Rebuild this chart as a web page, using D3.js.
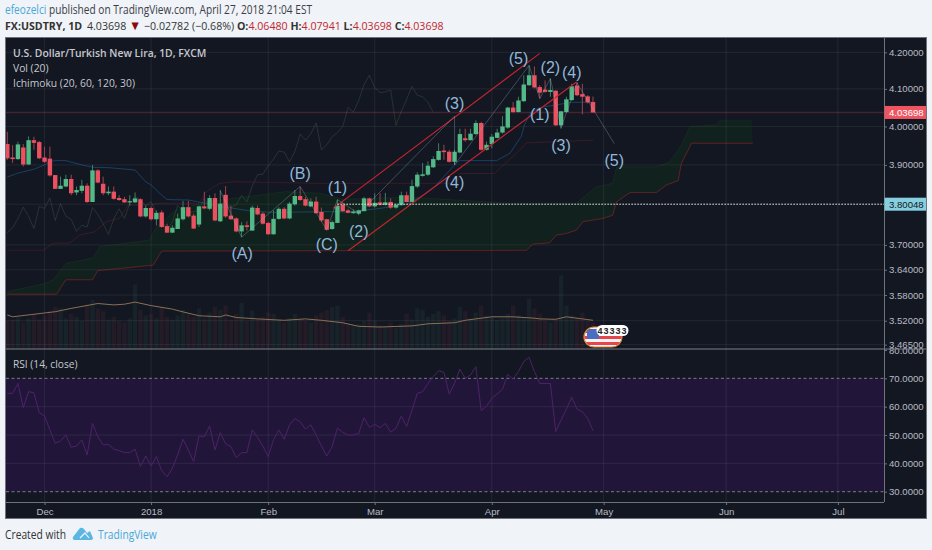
<!DOCTYPE html>
<html><head><meta charset="utf-8">
<script src="https://cdn.jsdelivr.net/npm/d3@7/dist/d3.min.js"></script>
<style>html,body{margin:0;padding:0;background:#f0f3f8;overflow:hidden}svg{display:block}</style>
</head><body><svg id="c" width="932" height="550"></svg>
<script>
const opens=[3.954,3.919,3.915,3.945,3.901,3.964,3.959,3.919,3.916,3.874,
3.839,3.845,3.864,3.830,3.834,3.847,3.806,3.886,3.852,3.828,
3.832,3.816,3.813,3.805,3.805,3.813,3.770,3.791,3.763,3.780,
3.746,3.730,3.739,3.763,3.793,3.772,3.750,3.795,3.789,3.816,
3.758,3.824,3.772,3.765,3.733,3.748,3.735,3.791,3.777,3.754,
3.726,3.764,3.789,3.765,3.800,3.821,3.813,3.795,3.807,3.781,
3.763,3.739,3.754,3.799,3.785,3.778,3.777,3.783,3.815,3.795,
3.805,3.799,3.806,3.792,3.799,3.823,3.806,3.845,3.872,3.875,
3.894,3.913,3.937,3.934,3.908,3.932,3.969,3.964,3.980,4.009,
3.939,3.954,3.970,3.984,3.997,4.050,4.038,4.067,4.110,4.137,
4.105,4.098,4.092,4.095,4.003,4.038,4.070,4.109,4.086,4.080,4.0648];
const highs=[3.986,3.951,3.960,3.954,3.974,3.973,3.962,3.947,3.947,3.874,
3.870,3.875,3.875,3.845,3.862,3.853,3.900,3.889,3.870,3.845,
3.845,3.823,3.819,3.823,3.830,3.815,3.797,3.795,3.785,3.785,
3.752,3.748,3.777,3.809,3.809,3.777,3.797,3.832,3.823,3.828,
3.836,3.846,3.797,3.768,3.756,3.758,3.797,3.797,3.781,3.756,
3.785,3.793,3.793,3.806,3.836,3.845,3.819,3.815,3.819,3.792,
3.764,3.760,3.812,3.805,3.789,3.787,3.787,3.819,3.817,3.828,
3.828,3.829,3.815,3.802,3.832,3.832,3.862,3.881,3.905,3.909,
3.922,3.956,3.952,3.939,3.939,3.994,3.994,3.994,4.016,4.012,
3.960,3.980,3.994,4.027,4.052,4.065,4.079,4.137,4.164,4.161,
4.110,4.123,4.128,4.097,4.041,4.079,4.114,4.119,4.114,4.083,4.07941];
const lows=[3.913,3.905,3.913,3.896,3.901,3.939,3.915,3.905,3.870,3.839,
3.839,3.843,3.823,3.823,3.828,3.804,3.806,3.853,3.823,3.823,
3.812,3.809,3.804,3.797,3.804,3.768,3.767,3.760,3.748,3.742,
3.729,3.729,3.739,3.760,3.767,3.739,3.744,3.788,3.785,3.758,
3.756,3.767,3.762,3.731,3.719,3.735,3.735,3.773,3.750,3.725,
3.725,3.762,3.763,3.763,3.797,3.809,3.795,3.793,3.777,3.756,
3.735,3.737,3.754,3.781,3.778,3.777,3.773,3.783,3.793,3.792,
3.797,3.797,3.789,3.789,3.797,3.805,3.805,3.841,3.870,3.872,
3.892,3.911,3.913,3.906,3.900,3.930,3.960,3.963,3.978,3.937,
3.937,3.943,3.969,3.981,3.994,4.036,4.037,4.065,4.108,4.101,
4.074,4.090,4.079,4.001,3.994,4.036,4.068,4.081,4.032,4.061,4.03698];
const closes=[3.917,3.915,3.953,3.901,3.964,3.957,3.917,3.908,3.873,3.839,
3.847,3.864,3.828,3.836,3.847,3.806,3.886,3.855,3.828,3.832,
3.814,3.811,3.805,3.808,3.815,3.770,3.791,3.763,3.779,3.744,
3.730,3.742,3.765,3.793,3.770,3.740,3.795,3.790,3.816,3.760,
3.802,3.770,3.763,3.733,3.748,3.744,3.792,3.775,3.752,3.726,
3.764,3.789,3.765,3.802,3.821,3.811,3.797,3.807,3.778,3.760,
3.737,3.756,3.797,3.783,3.779,3.782,3.785,3.815,3.795,3.804,
3.799,3.805,3.792,3.799,3.823,3.806,3.846,3.875,3.876,3.898,
3.915,3.936,3.933,3.908,3.934,3.980,3.964,3.981,4.009,3.939,
3.952,3.973,3.984,4.000,4.050,4.038,4.069,4.112,4.137,4.104,
4.090,4.092,4.097,4.003,4.040,4.072,4.107,4.083,4.079,4.064,4.03698];
const volumes=[40,42,45,38,44,50,42,48,55,60,
58,44,50,46,40,62,70,58,54,42,
46,40,38,44,92,56,48,50,44,60,
46,42,48,56,50,46,58,44,52,60,
56,62,42,50,66,40,55,44,46,52,
50,42,38,44,50,42,40,38,48,52,
56,60,62,46,36,34,36,40,52,40,
34,32,38,30,36,50,42,58,56,46,
50,54,48,40,44,60,54,44,52,62,
48,46,42,44,50,62,48,46,72,58,
50,40,38,42,105,62,48,44,52,40,38];
const volumeMA=[[0,48.6],[1,46],[5,49.6],[9,53.3],[12,58],[17,65],[20,63],[22,64],[24,67],[27,62],[31,57],[33,53],[36,47.5],[40,46],[41,48.6],[43,45],[47,43],[52,41],[56,43],[59,41],[63,37.5],[66,32.4],[70,31.4],[76,33],[79,36],[84,37.5],[86,41],[91,46],[95,46],[99,44],[100,43],[103,42.4],[105,46],[107,44],[110,41]];
const rsi=[64.7,64.7,68.2,59.7,65.3,64.9,57.9,56.7,51.8,47.1,47.9,50.0,45.7,46.1,48.3,43.0,54.1,49.4,46.5,46.7,
45.0,44.5,43.8,43.8,45.0,38.9,42.6,39.1,42.4,37.4,35.3,38.3,43.0,48.5,44.7,40.6,49.7,49.4,53.2,44.7,
50.8,46.9,45.9,42.0,43.8,43.8,51.8,49.2,46.1,42.4,48.3,51.8,48.5,53.6,55.8,54.7,52.1,53.6,50.0,46.1,
42.6,45.9,52.4,51.0,50.0,50.0,50.6,56.1,52.7,53.8,52.6,54.1,51.0,52.4,56.7,53.0,58.8,64.7,65.3,68.2,
70.6,72.7,72.1,64.5,68.2,73.3,70.0,71.2,74.1,58.6,60.2,62.9,64.5,66.1,71.4,69.7,72.4,75.9,77.4,72.4,
68.2,68.2,68.2,51.2,55.3,59.1,63.3,59.2,58.2,55.9,51.5];
const tenkan=[[0,3.869],[2,3.879],[5,3.889],[7,3.900],[8,3.909],[9,3.911],[11,3.911],[14,3.900],[16,3.894],[19,3.893],[24,3.887],[26,3.857],[27,3.849],[29,3.823],[30,3.812],[34,3.811],[36,3.806],[40,3.795],[46,3.783],[50,3.780],[60,3.782],[64,3.781],[70,3.790],[75,3.800],[78.7,3.828],[80,3.841],[84.4,3.906],[85,3.911],[91.9,3.911],[94.4,3.930],[96.5,3.973],[97.2,4.007],[98.4,4.038],[100,4.050],[106,4.064],[110,4.064]];
const kijun=[[0,3.687],[6.75,3.687],[8.6,3.704],[11.75,3.705],[13.6,3.724],[16.4,3.732],[18.6,3.757],[21,3.765],[22.7,3.798],[26.4,3.798],[28.6,3.803],[36,3.803],[37.4,3.832],[39.9,3.853],[42.4,3.857],[58.6,3.853],[84.5,3.853],[85,3.878],[91.5,3.878],[96.85,3.947],[97.5,3.957],[110,3.964]];
const senkouA=[[0,3.588],[6.75,3.606],[8.6,3.616],[11,3.655],[16,3.668],[17.4,3.696],[26.75,3.712],[28,3.745],[31.75,3.786],[37.4,3.806],[42.4,3.815],[52.4,3.832],[58.6,3.828],[63,3.813],[75.6,3.818],[94.35,3.803],[106.85,3.803],[110.6,3.844],[113.7,3.853],[114.45,3.895],[121.95,3.895],[124.45,3.908],[126.6,3.951],[128.2,3.999],[133.2,4.004],[133.8,4.015],[139.8,4.015]];
const senkouB=[[0,3.582],[9.25,3.582],[11,3.616],[16,3.616],[17,3.638],[27.4,3.651],[29,3.685],[97.5,3.687],[98.7,3.702],[101.85,3.705],[103.1,3.724],[105,3.728],[106.85,3.736],[108.1,3.757],[111.85,3.765],[113.7,3.773],[114.4,3.806],[116.95,3.830],[121.95,3.830],[123.8,3.849],[126,3.860],[126.6,3.904],[128.5,3.956],[140,3.956]];
const waves=[[40,3.834],[44,3.719],[55,3.845],[60,3.737],[62,3.812],[66,3.777],[84,4.027],[84,3.900],[98,4.164],[100,4.074],[102,4.128],[104,3.997],[107,4.116],[114,3.955]];
const channels=[[[61.2,3.790],[100,4.197]],[[64,3.686],[106.9,4.119]]];
const waveLabels=["(A)","(B)","(C)","(1)","(2)","(3)","(4)","(5)","(2)","(4)","(1)","(3)","(5)"];
const waveLabelIdx=[44.1,55,60,62,66,84,84,96,102,106,100,104,114];
const waveLabelPrice=[3.680,3.878,3.702,3.843,3.734,4.061,3.855,4.183,4.160,4.145,4.033,3.951,3.912];
const timeLabels=["Dec","2018","Feb","Mar","Apr","May","Jun","Jul"];
const timeIdx=[7,27,49,69,91,112,135,156];
const priceTicks=[4.2,4.1,4.0,3.9,3.7,3.64,3.58,3.52,3.465];
const rsiTicks=[80,70,60,50,40,30];
const lastPrice=4.03698, markPrice=3.80048;

const svg=d3.select("#c");
const L=6,R=926,T=38,B=518,PX=884,SEP=349,AX=502;
const x=d3.scaleLinear().domain([0,110]).range([7.3,593]);
const y=d3.scaleLog().domain([3.52,4.2]).range([320.7,52.3]);
const yR=d3.scaleLinear().domain([30,80]).range([491.7,350]);
const yV=d3.scaleLinear().domain([0,100]).range([349,279]);
const GRID="rgba(255,255,255,0.07)",SANS="'Liberation Sans',Arial,sans-serif",OS="'Open Sans',sans-serif";

svg.append("rect").attr("x",L-.5).attr("y",T-.5).attr("width",R-L+1).attr("height",B-T+1).attr("fill","#131722").attr("stroke","#6f727a");
const defs=svg.append("defs");
defs.append("clipPath").attr("id","main").append("rect").attr("x",L).attr("y",T).attr("width",PX-L).attr("height",SEP-T);
defs.append("clipPath").attr("id","pane").append("rect").attr("x",L).attr("y",SEP).attr("width",PX-L).attr("height",AX-SEP);

svg.append("rect").attr("x",L).attr("width",PX-L).attr("y",yR(70)).attr("height",yR(30)-yR(70)).attr("fill","#21163a");
const grid=svg.append("g").attr("stroke",GRID).attr("stroke-width",1);
timeIdx.forEach(d=>grid.append("line").attr("x1",x(d)).attr("x2",x(d)).attr("y1",T).attr("y2",AX));
priceTicks.concat([markPrice]).forEach(d=>grid.append("line").attr("x1",L).attr("x2",PX).attr("y1",y(d)).attr("y2",y(d)));
[60,50,40].forEach(d=>grid.append("line").attr("x1",L).attr("x2",PX).attr("y1",yR(d)).attr("y2",yR(d)));

const main=svg.append("g").attr("clip-path","url(#main)");
main.selectAll("rect.v").data(volumes).join("rect").attr("class","v")
 .attr("x",(d,i)=>x(i)-2.2).attr("width",4.4).attr("y",d=>yV(d)).attr("height",d=>yV(0)-yV(d))
 .attr("fill",(d,i)=>closes[i]>=opens[i]?"rgba(83,185,135,0.07)":"rgba(235,77,92,0.075)");
main.append("path").datum(volumeMA).attr("fill","none").attr("stroke","#8a6f55").attr("stroke-width",1)
 .attr("d",d3.line().x(d=>x(d[0])).y(d=>yV(d[1])));
const pl=d3.line().x(d=>x(d[0])).y(d=>y(d[1]));
main.append("path").attr("d",pl(senkouA.concat(senkouB.slice().reverse()))+"Z").attr("fill","rgba(0,128,0,0.10)");
main.append("path").attr("d",pl(senkouA)).attr("fill","none").attr("stroke","rgba(46,125,50,0.14)");
main.append("path").attr("d",pl(senkouB)).attr("fill","none").attr("stroke","rgba(190,40,40,0.45)");
main.append("path").attr("d",pl(kijun)).attr("fill","none").attr("stroke","rgba(170,40,50,0.24)");
main.append("path").attr("d",pl(tenkan)).attr("fill","none").attr("stroke","rgba(33,120,190,0.42)");
main.append("path").attr("d",pl(closes.slice(30).map((c,i)=>[i,c]))).attr("fill","none").attr("stroke","rgba(110,150,110,0.22)");
main.append("line").attr("x1",L).attr("x2",PX).attr("y1",y(lastPrice)).attr("y2",y(lastPrice)).attr("stroke","rgba(239,83,100,0.22)").attr("stroke-width",1.5);
const isUp=i=>closes[i]>=opens[i],GC="#53b987",RC="#eb5160";
main.selectAll("line.w").data(closes).join("line").attr("class","w")
 .attr("x1",(d,i)=>x(i)).attr("x2",(d,i)=>x(i)).attr("y1",(d,i)=>y(highs[i])).attr("y2",(d,i)=>y(lows[i]))
 .attr("stroke",(d,i)=>isUp(i)?"#3f7d63":"#9c4450").attr("stroke-width",1);
main.selectAll("rect.b").data(closes).join("rect").attr("class","b")
 .attr("x",(d,i)=>x(i)-2.2).attr("width",4.4)
 .attr("y",(d,i)=>y(Math.max(opens[i],closes[i])))
 .attr("height",(d,i)=>Math.max(1,Math.abs(y(opens[i])-y(closes[i]))))
 .attr("fill",(d,i)=>isUp(i)?GC:RC);
channels.forEach(c=>main.append("path").attr("d",pl(c)).attr("fill","none").attr("stroke","#c2252d").attr("stroke-width",1.2));
main.append("path").attr("d",pl(waves)).attr("fill","none").attr("stroke","rgba(150,180,205,0.42)").attr("stroke-width",.8);
main.selectAll("text.w").data(waveLabels).join("text").attr("class","w")
 .attr("x",(d,i)=>x(waveLabelIdx[i])).attr("y",(d,i)=>y(waveLabelPrice[i])).attr("dy","0.36em")
 .attr("text-anchor","middle").attr("font-family",SANS).attr("font-size",16).attr("fill","#8fb8da").text(d=>d);
main.append("line").attr("x1",x(62)).attr("x2",PX).attr("y1",y(markPrice)).attr("y2",y(markPrice))
 .attr("stroke","#e8ecef").attr("stroke-width",1).attr("stroke-dasharray","1.5,1.5");

const pane=svg.append("g").attr("clip-path","url(#pane)");
[70,30].forEach(d=>pane.append("line").attr("x1",L).attr("x2",PX).attr("y1",yR(d)).attr("y2",yR(d)).attr("stroke","#7d7988").attr("stroke-dasharray","3,2.5"));
pane.append("path").datum(rsi).attr("fill","none").attr("stroke","#4f2168").attr("stroke-width",1)
 .attr("d",d3.line().x((d,i)=>x(i)).y(d=>yR(d)));

function style(g){g.select(".domain").attr("stroke","#6f727a");g.selectAll("line").attr("stroke","#6f727a");
 g.selectAll("text").attr("fill","#b8bbc3").attr("font-family",SANS).attr("font-size",9.6);}
svg.append("g").attr("transform",`translate(${PX},0)`)
 .call(d3.axisRight(y).tickValues(priceTicks).tickFormat(d3.format(".5f")).tickSize(3).tickPadding(2)).call(style)
 .select(".domain").attr("d",`M0.5,${T}V${AX}`);
svg.append("g").attr("transform",`translate(${PX},0)`)
 .call(d3.axisRight(yR).tickValues(rsiTicks).tickFormat(d3.format(".4f")).tickSize(3).tickPadding(2)).call(style)
 .select(".domain").remove();
svg.append("g").attr("transform",`translate(0,${AX})`)
 .call(d3.axisBottom(x).tickValues(timeIdx).tickFormat((d,i)=>timeLabels[i]).tickSize(3).tickPadding(3)).call(style)
 .select(".domain").attr("d",`M${L},0.5H${PX}`);
svg.append("line").attr("x1",L).attr("x2",R).attr("y1",SEP).attr("y2",SEP).attr("stroke","#7d8087").attr("stroke-width",1.2);

[[lastPrice,"#ef5561","#fff"],[markPrice,"#86cfe0","#131722"]].forEach(([p,bg,fg])=>{
 svg.append("rect").attr("x",PX+.5).attr("width",R-PX-.5).attr("y",y(p)-6.5).attr("height",13).attr("fill",bg);
 svg.append("text").attr("x",889).attr("y",y(p)).attr("dy","0.36em").attr("font-family",SANS).attr("font-size",9.6).attr("fill",fg).text(p.toFixed(5));
});

[["U.S. Dollar/Turkish New Lira, 1D, FXCM",57,600,10.4],["Vol (20)",72,400,10.3],["Ichimoku (20, 60, 120, 30)",87,400,10.3],["RSI (14, close)",368,400,10.2]].forEach(([t,yy,w,s])=>
 svg.append("text").attr("x",13).attr("y",yy).attr("font-family",OS).attr("font-size",s).attr("font-weight",w).attr("fill","#c6c8ce").text(t));

const bx=584,by=327,bw=38,bh=20;
defs.append("clipPath").attr("id","pill").append("rect").attr("x",bx).attr("y",by).attr("width",bw).attr("height",bh).attr("rx",10);
const fl=svg.append("g").attr("clip-path","url(#pill)");
fl.append("rect").attr("x",bx).attr("y",by).attr("width",bw).attr("height",bh).attr("fill","#f4f2f2");
[3,9,15].forEach(d=>fl.append("rect").attr("x",bx).attr("y",by+d).attr("width",bw).attr("height",3).attr("fill","#e8444c"));
fl.append("rect").attr("x",bx+3).attr("y",by+2).attr("width",12).attr("height",10).attr("fill","#4a6fc0");
svg.append("rect").attr("x",bx).attr("y",by).attr("width",bw).attr("height",bh).attr("rx",10).attr("fill","none").attr("stroke","#d98a3a").attr("stroke-width",1.2);
svg.append("rect").attr("x",596.5).attr("y",325).attr("width",32).attr("height",11).attr("rx",5.5).attr("fill","#fff");
svg.append("text").attr("x",612.5).attr("y",333.5).attr("text-anchor","middle").attr("font-family",SANS).attr("font-size",9).attr("font-weight",700).attr("letter-spacing",1).attr("fill","#222").text("43333");

const h1=svg.append("text").attr("transform","translate(5,14) scale(0.86,1)").attr("font-family",OS).attr("font-size",11.8).attr("fill","#3a3d45");
h1.append("tspan").attr("fill","#4aa8d8").text("efeozelci");
h1.append("tspan").text(" published on TradingView.com, April 27, 2018 21:04 EST");
const h2=svg.append("text").attr("transform","translate(5,30) scale(0.95,1)").attr("font-family",OS).attr("font-size",11.2).attr("fill","#333");
h2.append("tspan").attr("font-weight",700).text("FX:USDTRY, 1D");
h2.append("tspan").attr("dx",5).text("4.03698 ");
h2.append("tspan").attr("fill","#8b0a0a").attr("font-size",13).text("▼");
h2.append("tspan").text(" −0.02782 (−0.68%) ");
[["O:","4.06480"],["H:","4.07941"],["L:","4.03698"],["C:","4.03698"]].forEach(([a,b])=>{
 h2.append("tspan").attr("font-weight",700).text(a);
 h2.append("tspan").attr("fill","#c0282d").text(b+" ");
});

svg.append("text").attr("transform","translate(5,539) scale(0.87,1)").attr("font-family",OS).attr("font-size",11.8).attr("fill","#333").text("Created with");
svg.append("text").attr("transform","translate(98,539) scale(0.87,1)").attr("font-family",OS).attr("font-size",11.8).attr("fill","#4aa8d8").text("TradingView");
svg.append("path").attr("d","M73,537 L80,528 Q82,527 84,529 L87,533 L90,531 L93,538 Q93,540 90,540 L75,540 Q72,540 73,537Z").attr("fill","#5cb6e4");
svg.append("path").attr("d","M80,538 L85,533 L89,538").attr("fill","none").attr("stroke","#f0f3f8").attr("stroke-width",1.2);
</script></body></html>
